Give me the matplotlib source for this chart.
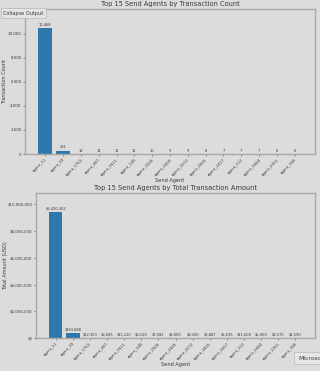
import matplotlib
matplotlib.use("Agg")
import matplotlib.pyplot as plt
from matplotlib.ticker import FuncFormatter

count_agents = ["agent_11", "agent_39", "agent_1750", "agent_467", "agent_1611", "agent_148",
                "agent_2026", "agent_2426", "agent_2572", "agent_2835", "agent_2417", "agent_112",
                "agent_2444", "agent_2351", "agent_358"]
count_values = [10468, 281, 18, 12, 11, 11, 10, 9, 9, 8, 7, 7, 7, 6, 6]

amount_agents = ["agent_11", "agent_39", "agent_1750", "agent_467", "agent_1611", "agent_148",
                 "agent_2026", "agent_2426", "agent_2572", "agent_2835", "agent_2417", "agent_112",
                 "agent_2444", "agent_2351", "agent_358"]
amount_values = [9430302, 363888, 12353, 9045, 11120, 9100, 7582, 8850, 8490, 9887, 5535,
                 11000, 5950, 3570, 2590]

BG = "#dcdcdc"
BAR = "#2f78ad"
TXT = "#3a3a3a"
SP = "#a8a8a8"

W, H = 320, 371
fig = plt.figure(figsize=(W / 100, H / 100), dpi=100, facecolor=BG)

def frac(l, t, r, b):
    return [l / W, 1 - b / H, (r - l) / W, (b - t) / H]

def style(ax):
    ax.set_facecolor(BG)
    for s in ax.spines.values():
        s.set_color(SP)
        s.set_linewidth(1.0)
    ax.tick_params(axis="both", labelsize=2.8, colors=TXT, length=1.5, width=0.4, pad=1)

ax1 = fig.add_axes(frac(25, 9, 315, 154))
style(ax1)
x1 = range(len(count_agents))
ax1.bar(x1, count_values, color=BAR, width=0.8)
ax1.set_ylim(0, max(count_values) * 1.15)
ax1.set_xticks(list(x1))
ax1.set_xticklabels(count_agents, rotation=45, ha="right", rotation_mode="anchor")
ax1.yaxis.set_major_formatter(FuncFormatter(lambda v, p: f"{int(v):,}"))
for i, v in enumerate(count_values):
    ax1.text(i, v + max(count_values) * 0.01, f"{v:,}", ha="center", va="bottom", fontsize=2.6, color=TXT)
ax1.set_title("Top 15 Send Agents by Transaction Count", fontsize=4.8, color=TXT, pad=2)
ax1.set_xlabel("Send Agent", fontsize=3.6, color=TXT, labelpad=1)
ax1.set_ylabel("Transaction Count", fontsize=3.6, color=TXT)
ax1.yaxis.set_label_coords((7 - 25) / 290, 0.5)

ax2 = fig.add_axes(frac(36, 193, 315, 338))
style(ax2)
x2 = range(len(amount_agents))
ax2.bar(x2, amount_values, color=BAR, width=0.8)
ax2.set_ylim(0, max(amount_values) * 1.15)
ax2.set_xticks(list(x2))
ax2.set_xticklabels(amount_agents, rotation=45, ha="right", rotation_mode="anchor")
ax2.yaxis.set_major_formatter(FuncFormatter(lambda v, p: f"${int(v):,}"))
for i, v in enumerate(amount_values):
    ax2.text(i, v + max(amount_values) * 0.01, f"${v:,}", ha="center", va="bottom", fontsize=2.6, color=TXT)
ax2.set_title("Top 15 Send Agents by Total Transaction Amount", fontsize=4.8, color=TXT, pad=2)
ax2.set_xlabel("Send Agent", fontsize=3.6, color=TXT, labelpad=1)
ax2.set_ylabel("Total Amount (USD)", fontsize=3.6, color=TXT)
ax2.yaxis.set_label_coords((8 - 36) / 279, 0.5)

fig.text(3 / W, 1 - 13 / H, "Collapse Output", fontsize=3.6, color=TXT, va="center", ha="left",
         bbox=dict(boxstyle="square,pad=0.5", fc="#e4e4e4", ec="#b8b8b8", lw=0.5))
fig.text(298 / W, 1 - 358 / H, "Microso", fontsize=4.4, color=TXT, va="center", ha="left",
         bbox=dict(boxstyle="square,pad=0.6", fc="#e6e6e6", ec="#b8b8b8", lw=0.5))

fig.savefig("out.png", dpi=100, facecolor=BG)
